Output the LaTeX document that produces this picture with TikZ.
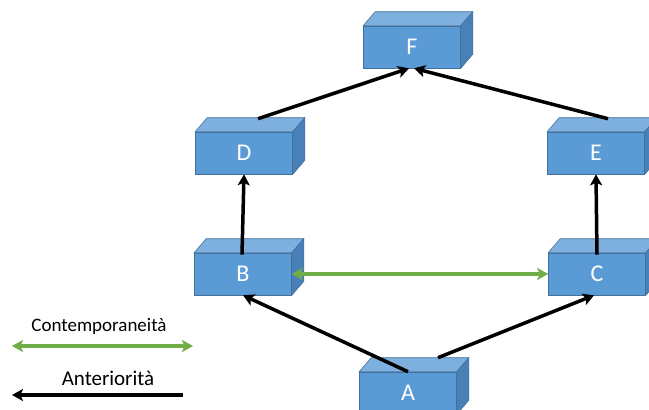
\documentclass[tikz,border=0pt]{standalone}
\usepackage{fontspec}
\setmainfont{Carlito}
\usetikzlibrary{arrows.meta,calc}

\definecolor{boxblue}{HTML}{5B9BD5}
\definecolor{boxtop}{HTML}{7EB0DF}
\definecolor{boxside}{HTML}{4A80B8}
\definecolor{boxline}{HTML}{41719C}
\definecolor{contgreen}{HTML}{70AD47}

\begin{document}
\begin{tikzpicture}[x=1pt,y=-1pt,>={Stealth[length=11pt,width=12pt,inset=2.5pt]},
  blok/.style={draw=boxline,fill=boxblue,line width=0.6pt,minimum width=97pt,minimum height=42pt,inner sep=0pt,text=white,font=\fontsize{24}{26}\selectfont},
  prima/.style={->,line width=3.5pt,black},
  cont/.style={<->,line width=3.2pt,contgreen},
  legend/.style={font=\fontsize{19}{21}\selectfont}]
\useasboundingbox (0,0) rectangle (649,410);

\node[blok] (F) at (412,47) {F};
\node[blok] (D) at (244,153) {D};
\node[blok] (E) at (596,153) {E};
\node[blok] (B) at (243,274) {B};
\node[blok] (C) at (597,274) {C};
\node[blok] (A) at (408,393) {A};

% top and side faces of the boxes
\foreach \n in {A,B,C,D,E,F} {
  \filldraw[fill=boxtop,draw=boxline,line width=0.6pt] (\n.north west) -- ++(12,-14) -- ($(\n.north east)+(12,-14)$) -- (\n.north east) -- cycle;
  \filldraw[fill=boxside,draw=boxline,line width=0.6pt] (\n.north east) -- ++(12,-14) -- ($(\n.south east)+(12,-14)$) -- (\n.south east) -- cycle;
}

\draw[prima] (A.north) -- (B.south);
\draw[prima] ($(A.north)+(30,-14)$) -- ($(C.south)+(-3,0)$);
\draw[prima] ([shift={(-1,2)}]B.north) -- (D.south);
\draw[prima] ([shift={(0,2)}]C.north) -- (E.south);
\draw[prima] ($(D.north)+(14,-13)$) -- ($(F.south)+(-3,0)$);
\draw[prima] ($(E.north)+(12,-13)$) -- ($(F.south)+(2,0)$);
\draw[cont] (B.east) -- (C.west);

% legend
\node[legend] (contemp) at (99,326) {Contemporaneità};
\node[legend,font=\fontsize{21}{23}\selectfont] (anter) at (108,378) {Anteriorità};
\coordinate (g1) at (12,346);
\coordinate (g2) at (193,346);
\coordinate (k1) at (183,395);
\coordinate (k2) at (12,395);
\draw[cont] (g1) -- (g2);
\draw[prima] (k1) -- (k2);
\end{tikzpicture}
\end{document}
